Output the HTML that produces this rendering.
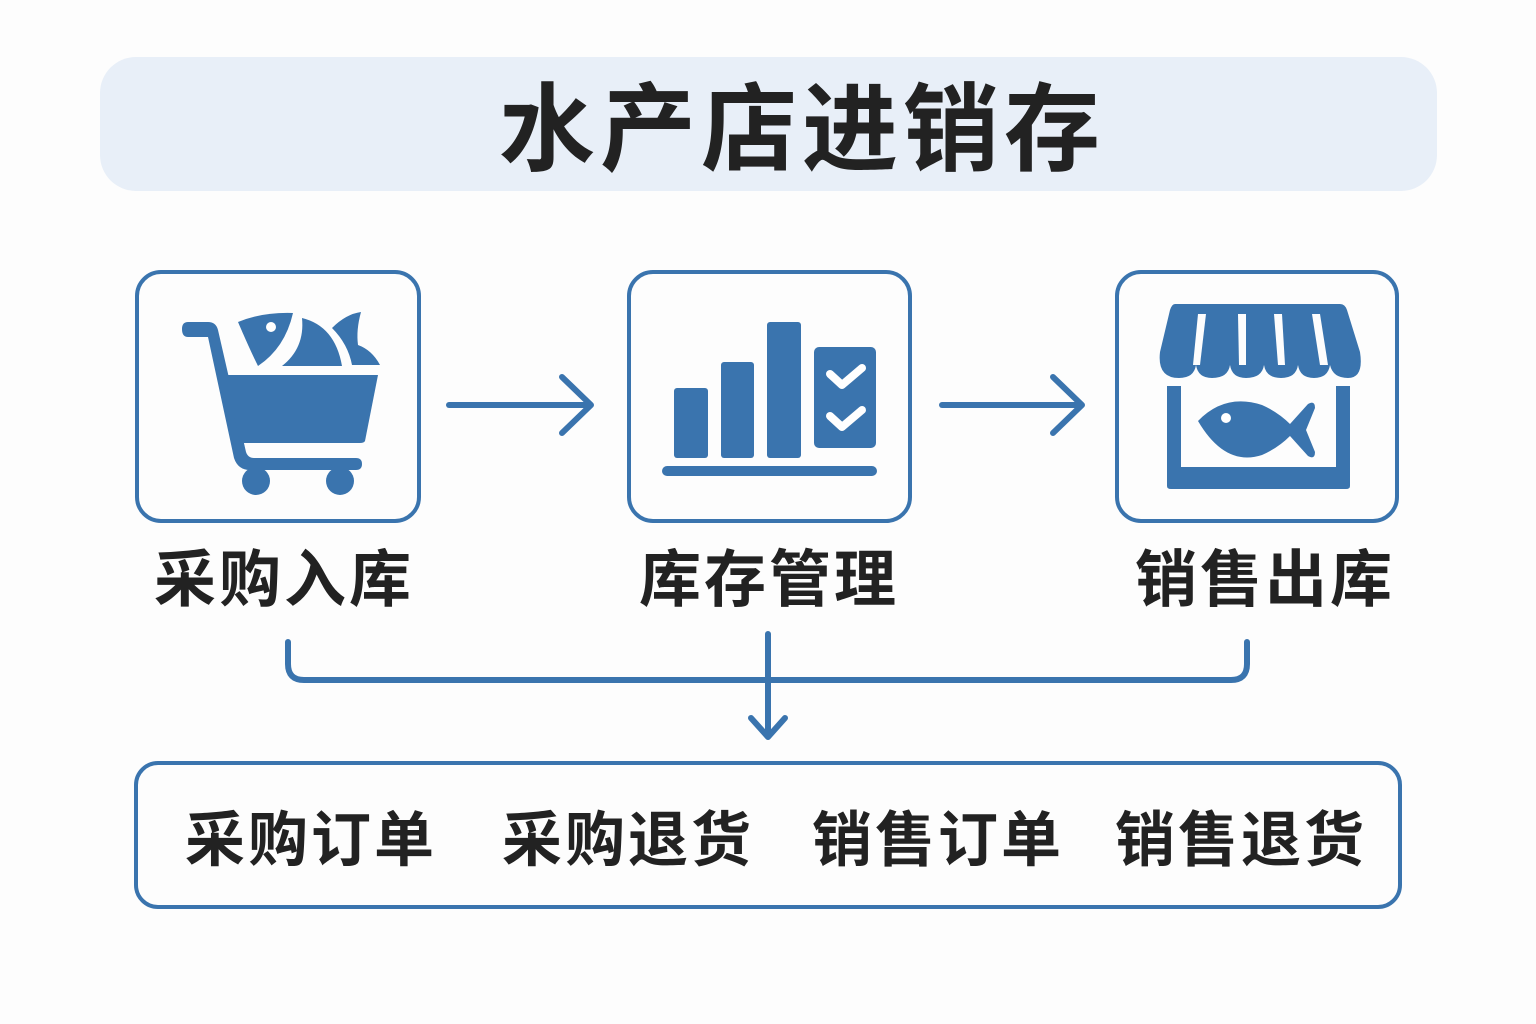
<!DOCTYPE html>
<html><head><meta charset="utf-8"><style>
html,body{margin:0;padding:0;background:#fdfdfd;}
svg{display:block}
text{font-family:"Liberation Sans","Noto Sans CJK SC",sans-serif;font-weight:bold;fill:#222;}
</style></head><body>
<svg width="1536" height="1024" viewBox="0 0 1536 1024" xmlns="http://www.w3.org/2000/svg">
<rect width="1536" height="1024" fill="#fdfdfd"/>
<rect x="100" y="57" width="1337" height="134" rx="36" fill="#e8eff8"/>
<text x="802" y="163" font-size="96" text-anchor="middle" letter-spacing="5">水产店进销存</text>

<g fill="none" stroke="#3a74ae" stroke-width="4">
<rect x="137" y="272" width="282" height="249" rx="24"/>
<rect x="629" y="272" width="281" height="249" rx="24"/>
<rect x="1117" y="272" width="280" height="249" rx="24"/>
<rect x="136" y="763" width="1264" height="144" rx="22"/>
</g>
<g fill="none" stroke="#3a74ae" stroke-width="6" stroke-linecap="round" stroke-linejoin="round">
<line x1="449" y1="405" x2="590" y2="405"/><polyline points="562,377 591,405 562,433"/>
<line x1="942" y1="405" x2="1081" y2="405"/><polyline points="1053,377 1082,405 1053,433"/>
<path d="M288 642 V664 Q288 680 304 680 H1231 Q1247 680 1247 664 V642"/>
<line x1="768" y1="634" x2="768" y2="736"/><polyline points="751,718 768,737 785,718"/>
</g>

<g fill="#3a74ae">
<path d="M188 322 H208 Q216 322 218 330 L246 452 Q248 458 254 458 H356 Q362 458 362 464 Q362 470 356 470 H250 Q238 470 234 458 L208 337 H188 Q182 337 182 329 Q182 322 188 322Z"/>
<path d="M225 375 H378 L365 441 Q364 443 360 443 H240Z"/>
<circle cx="256" cy="481" r="14"/><circle cx="340" cy="481" r="14"/>
<path d="M238 322 Q262 312 293 313 Q285 348 258 366 Q250 350 238 322Z"/>
<path d="M302 318 Q335 326 342 366 H282 Q305 348 302 318Z"/>
<path d="M332 328 Q346 314 361 312 Q356 330 358 345 Q372 350 380 365 H352 Q348 344 332 328Z"/>
<circle cx="271" cy="327" r="5" fill="#fff"/>
<rect x="674" y="388" width="34" height="70" rx="3"/>
<rect x="721" y="362" width="33" height="96" rx="3"/>
<rect x="767" y="322" width="34" height="136" rx="3"/>
<rect x="814" y="347" width="62" height="101" rx="5"/>
<rect x="662" y="466" width="215" height="10" rx="5"/>
<path d="M1175 304 H1340 Q1345 304 1347 310 L1360 352 Q1364 378 1348 378 Q1333 378 1330 365 Q1328 378 1314 378 Q1300 378 1298 365 Q1296 378 1281 378 Q1266 378 1264 365 Q1262 378 1246 378 Q1232 378 1230 365 Q1228 378 1212 378 Q1198 378 1196 365 Q1194 378 1179 378 Q1157 378 1160 352 L1170 310 Q1172 304 1175 304Z"/>
<path d="M1167 386 H1181 V467 H1336 V386 H1350 V486 Q1350 489 1346 489 H1171 Q1167 489 1167 486Z"/>
<path d="M1198 421 Q1225 393 1262 405 Q1278 412 1290 424 L1308 404 Q1315 400 1315 408 L1306 430 L1315 452 Q1315 460 1308 456 L1290 436 Q1278 448 1262 455 Q1225 467 1198 421Z"/>
<circle cx="1226" cy="418" r="5" fill="#fff"/>
</g>
<g fill="#fdfdfd">
<path d="M1198 314 H1206 L1200 365 H1193Z"/>
<path d="M1238 314 H1246 L1246 365 H1239Z"/>
<path d="M1274 314 H1282 L1285 365 H1278Z"/>
<path d="M1312 314 H1320 L1328 365 H1320Z"/>
</g>
<g fill="none" stroke="#fff" stroke-width="8" stroke-linecap="round" stroke-linejoin="round">
<polyline points="830,374 842,385 862,368"/>
<polyline points="830,416 842,427 862,410"/>
</g>

<g font-size="62" text-anchor="middle" letter-spacing="3">
<text x="284" y="601">采购入库</text>
<text x="769" y="601">库存管理</text>
<text x="1265" y="601">销售出库</text>
</g>
<g font-size="60" text-anchor="middle" letter-spacing="3">
<text x="311" y="861">采购订单</text>
<text x="628" y="861">采购退货</text>
<text x="938" y="861">销售订单</text>
<text x="1241" y="861">销售退货</text>
</g>
</svg>
</body></html>
